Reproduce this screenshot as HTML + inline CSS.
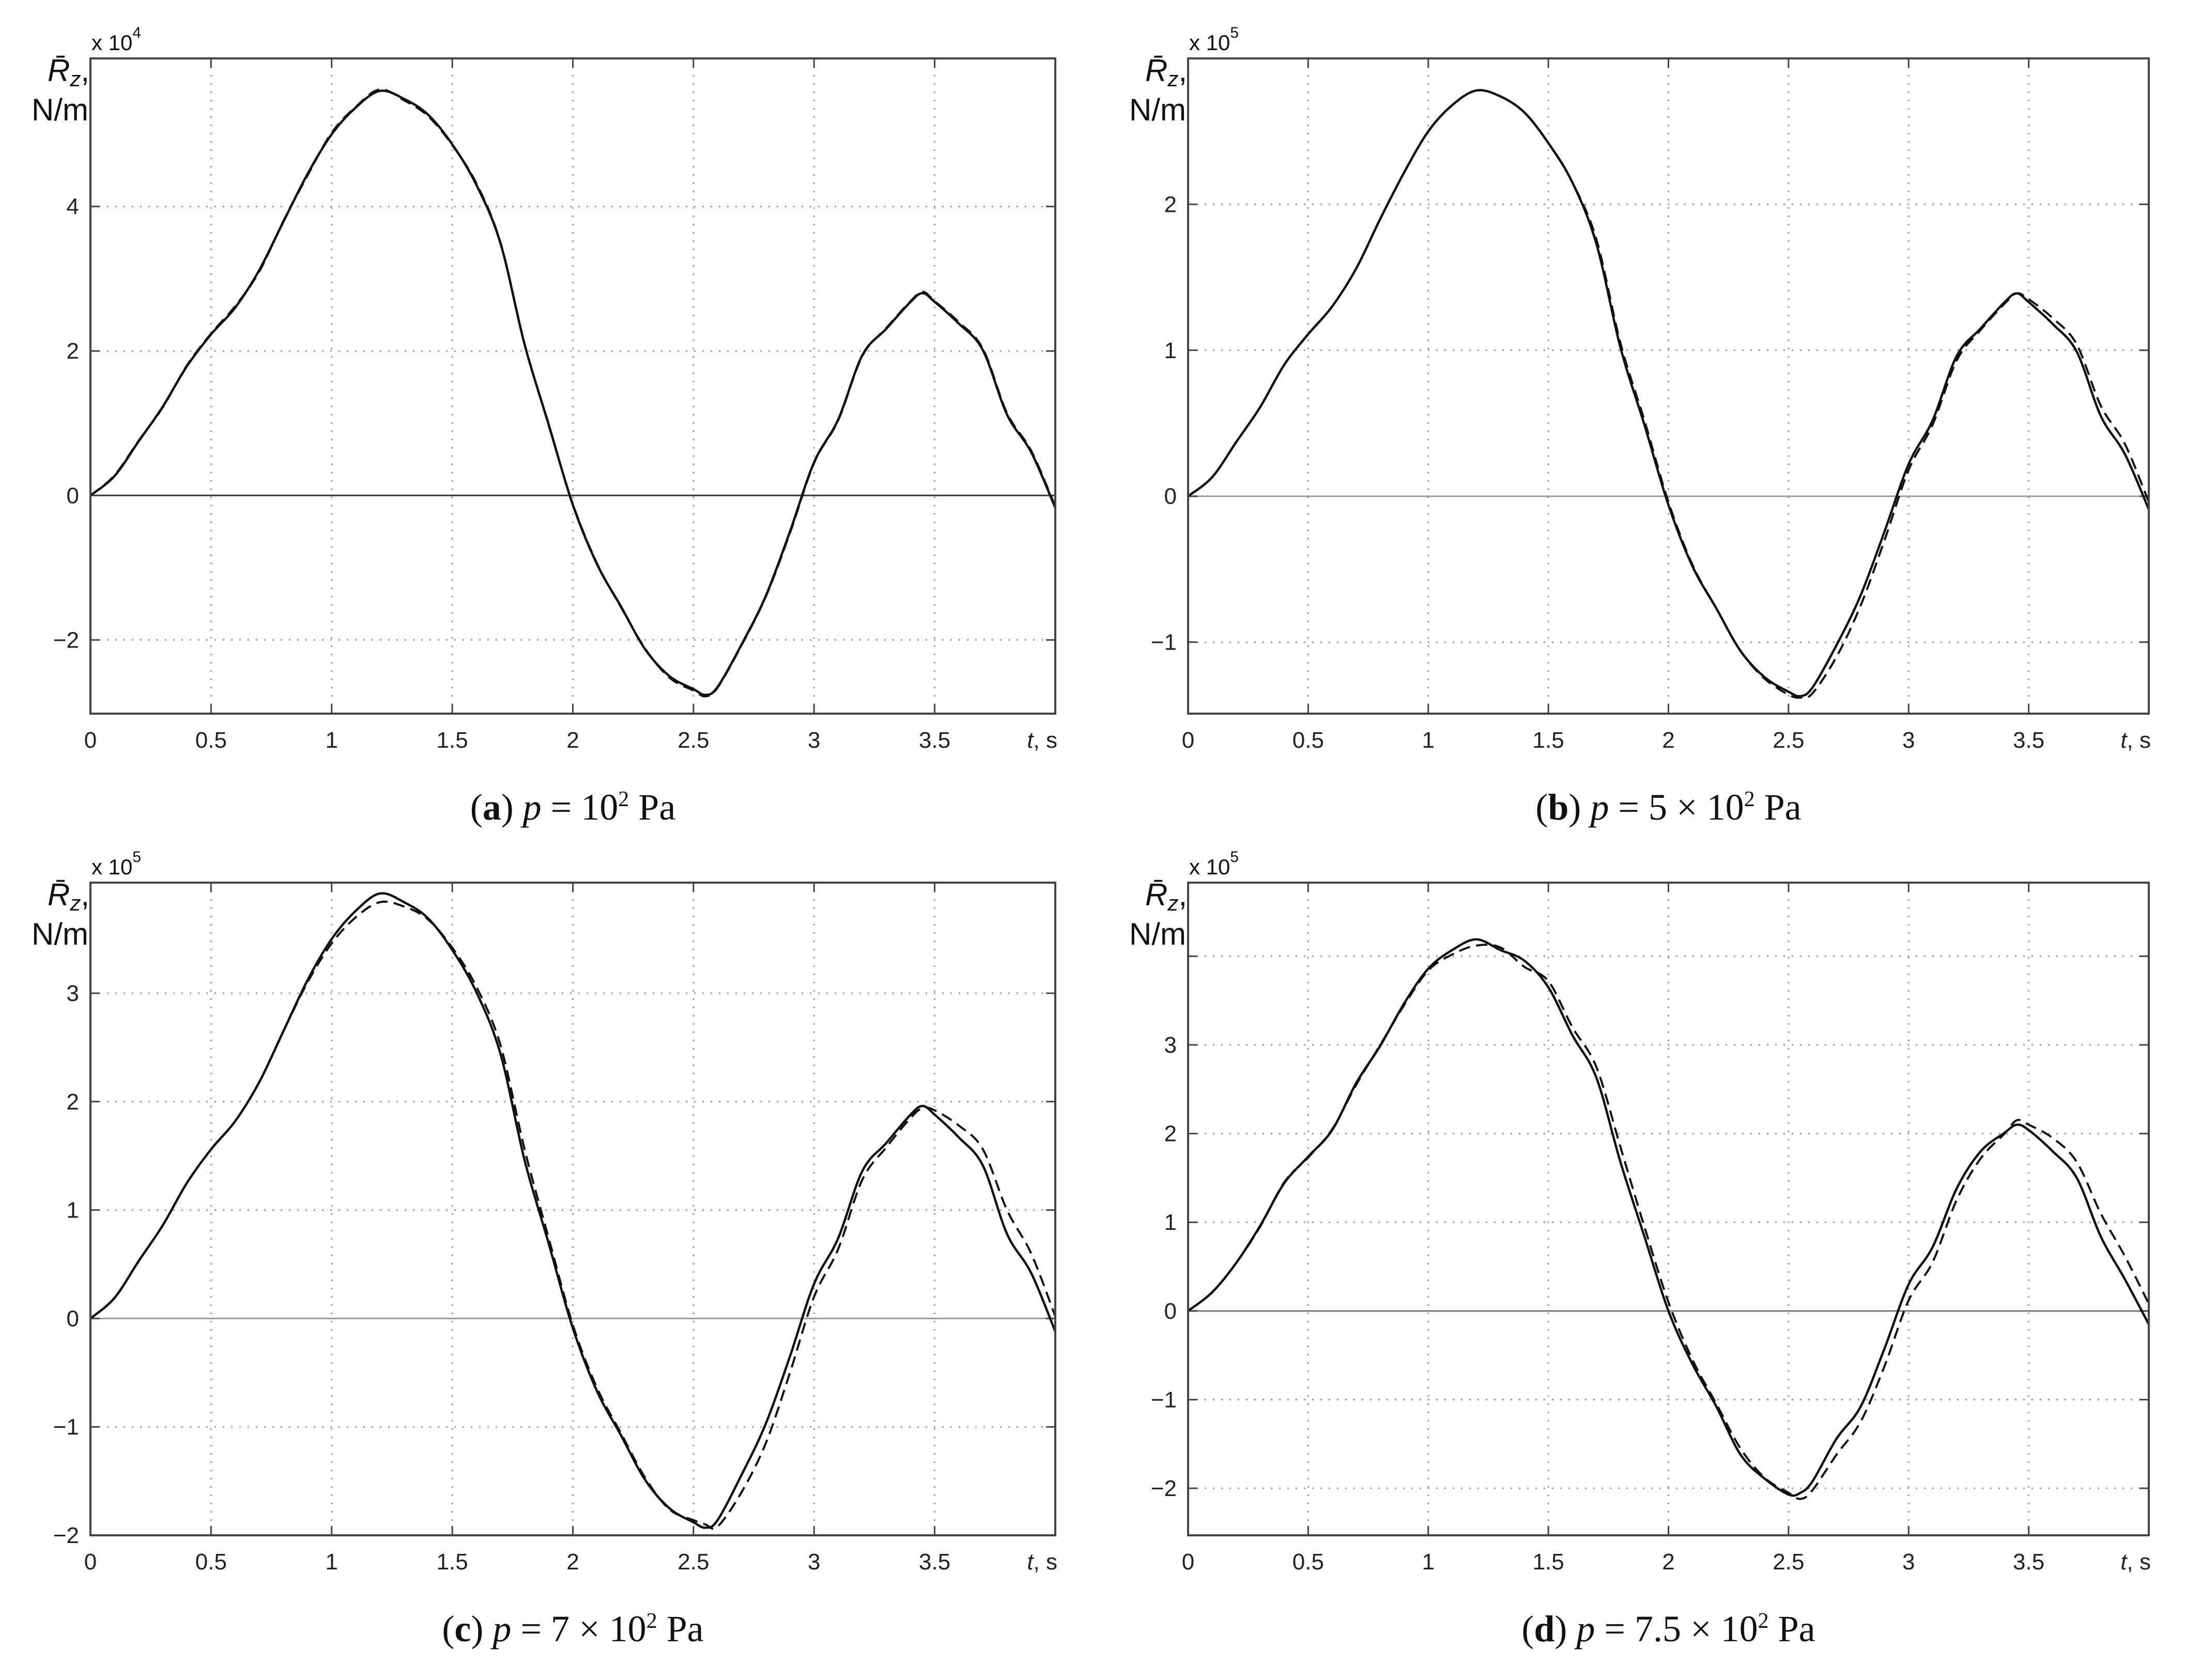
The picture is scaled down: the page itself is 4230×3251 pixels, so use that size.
<!DOCTYPE html>
<html><head><meta charset="utf-8">
<style>
html,body{margin:0;padding:0;background:#fff;}
svg{display:block;}
.tick{font-family:"Liberation Sans",sans-serif;font-size:44px;fill:#222;}
.lab{font-family:"Liberation Sans",sans-serif;fill:#111;}
.cap{font-family:"Liberation Serif",serif;font-size:72px;fill:#111;}
</style></head>
<body>
<svg id="fig" width="4230" height="3251" viewBox="0 0 4230 3251" xmlns="http://www.w3.org/2000/svg"></svg>
<script>
const tVals=[0,0.1,0.2,0.3,0.4,0.5,0.6,0.7,0.8,0.9,1.0,1.1,1.2,1.3,1.4,1.5,1.6,1.7,1.8,1.9,2.0,2.1,2.2,2.3,2.4,2.5,2.55,2.6,2.7,2.8,2.9,3.0,3.1,3.2,3.3,3.4,3.45,3.5,3.6,3.7,3.8,3.9,4.0];
const aSolid=[0,0.27,0.75,1.23,1.79,2.23,2.6,3.12,3.79,4.45,5.0,5.37,5.6,5.49,5.27,4.86,4.3,3.49,2.09,0.98,-0.13,-0.95,-1.54,-2.13,-2.5,-2.68,-2.76,-2.65,-2.06,-1.39,-0.5,0.46,1.05,1.94,2.31,2.68,2.8,2.68,2.38,2.01,1.12,0.6,-0.17];
const aDashed=[0,0.28,0.76,1.22,1.8,2.24,2.62,3.1,3.8,4.43,5.02,5.38,5.62,5.47,5.25,4.85,4.32,3.5,2.1,0.97,-0.12,-0.94,-1.55,-2.12,-2.52,-2.7,-2.78,-2.66,-2.07,-1.4,-0.52,0.45,1.04,1.93,2.32,2.69,2.82,2.69,2.4,2.03,1.14,0.62,-0.15];
const bSolid=[0,0.13,0.37,0.61,0.9,1.11,1.3,1.56,1.9,2.22,2.5,2.68,2.78,2.74,2.63,2.42,2.15,1.73,1.02,0.49,-0.06,-0.48,-0.77,-1.06,-1.24,-1.34,-1.37,-1.31,-1.02,-0.68,-0.24,0.22,0.52,0.96,1.15,1.33,1.39,1.33,1.18,0.99,0.55,0.29,-0.09];
const bDashed=[0,0.13,0.37,0.61,0.9,1.11,1.3,1.56,1.9,2.22,2.5,2.68,2.78,2.74,2.63,2.42,2.15,1.76,1.05,0.52,-0.04,-0.47,-0.77,-1.06,-1.25,-1.36,-1.38,-1.35,-1.1,-0.75,-0.3,0.18,0.49,0.93,1.14,1.32,1.39,1.35,1.22,1.04,0.62,0.36,-0.04];
const cSolid=[0,0.19,0.53,0.86,1.25,1.56,1.82,2.18,2.65,3.12,3.5,3.76,3.92,3.84,3.69,3.4,3.01,2.44,1.46,0.69,-0.09,-0.67,-1.08,-1.49,-1.75,-1.88,-1.93,-1.86,-1.44,-0.97,-0.35,0.32,0.74,1.36,1.62,1.88,1.96,1.88,1.67,1.41,0.78,0.42,-0.12];
const cDashed=[0,0.19,0.53,0.86,1.25,1.56,1.82,2.18,2.65,3.1,3.46,3.7,3.84,3.8,3.68,3.42,3.06,2.52,1.56,0.74,-0.06,-0.64,-1.06,-1.47,-1.76,-1.86,-1.9,-1.92,-1.6,-1.15,-0.5,0.2,0.64,1.28,1.58,1.85,1.94,1.92,1.78,1.56,1.0,0.6,0.02];
const dSolid=[0,0.21,0.54,0.96,1.44,1.74,2.04,2.57,2.99,3.47,3.86,4.07,4.19,4.07,3.95,3.65,3.11,2.63,1.68,0.84,0,-0.6,-1.08,-1.62,-1.89,-2.07,-2.05,-1.92,-1.44,-1.08,-0.42,0.3,0.72,1.38,1.8,2.01,2.1,2.04,1.8,1.5,0.84,0.36,-0.15];
const dDashed=[0,0.21,0.54,0.95,1.45,1.73,2.05,2.55,3.0,3.45,3.84,4.02,4.12,4.1,3.88,3.72,3.2,2.75,1.85,0.95,0.1,-0.55,-1.05,-1.55,-1.88,-2.05,-2.12,-2.02,-1.62,-1.25,-0.62,0.12,0.55,1.25,1.72,2.0,2.15,2.1,1.95,1.68,1.1,0.62,0.08];
const xTickLabels=["0","0.5","1","1.5","2","2.5","3","3.5"];
const aYTicks=[-2,0,2,4];
const bYTicks=[-1,0,1,2];
const cYTicks=[-2,-1,0,1,2,3];
const dYTicks=[-2,-1,0,1,2,3];
const aGrid=[-2,0,2,4];
const bGrid=[-1,0,1,2];
const cGrid=[-2,-1,0,1,2,3];
const dGrid=[-2,-1,0,1,2,3,4];

const NS="http://www.w3.org/2000/svg";
const svg=document.getElementById('fig');
function mk(tag,attrs,parent){const e=document.createElementNS(NS,tag);for(const k in attrs)e.setAttribute(k,attrs[k]);(parent||svg).appendChild(e);return e;}
function smooth(pts){let d="M"+pts[0][0].toFixed(1)+","+pts[0][1].toFixed(1);
 for(let i=0;i<pts.length-1;i++){const p0=pts[Math.max(0,i-1)],p1=pts[i],p2=pts[i+1],p3=pts[Math.min(pts.length-1,i+2)];
  const c1x=p1[0]+(p2[0]-p0[0])/6,c1y=p1[1]+(p2[1]-p0[1])/6,c2x=p2[0]-(p3[0]-p1[0])/6,c2y=p2[1]-(p3[1]-p1[1])/6;
  d+=` C${c1x.toFixed(1)},${c1y.toFixed(1)} ${c2x.toFixed(1)},${c2y.toFixed(1)} ${p2[0].toFixed(1)},${p2[1].toFixed(1)}`;}
 return d;}

function panel(id,L,R,T,B,ymin,ymax,yTicks,grid,solid,dashed,exp,capLetter,capRest,zeroColor){
 const g=mk('g',{});
 
 
 const xs=t=>L+(R-L)*t/4;
 const ys=v=>B-(B-T)*(v-ymin)/(ymax-ymin);
 for(let i=1;i<8;i++){const l=mk('line',{x1:xs(i*0.5),x2:xs(i*0.5),y1:T,y2:B,stroke:'#9a9a9a','stroke-width':3,'stroke-dasharray':'3 13'},g);
  }
 grid.forEach(v=>{if(v===0)return;const l=mk('line',{x1:L,x2:R,y1:ys(v),y2:ys(v),stroke:'#9a9a9a','stroke-width':3,'stroke-dasharray':'3 13'},g);
  });
 const z=mk('line',{x1:L,x2:R,y1:ys(0),y2:ys(0),stroke:zeroColor,'stroke-width':3},g);
 
 for(let i=1;i<8;i++){mk('line',{x1:xs(i*0.5),x2:xs(i*0.5),y1:B,y2:B-18,stroke:'#444','stroke-width':3},g);mk('line',{x1:xs(i*0.5),x2:xs(i*0.5),y1:T,y2:T+18,stroke:'#444','stroke-width':3},g);}
 grid.forEach(v=>{mk('line',{x1:L,x2:L+18,y1:ys(v),y2:ys(v),stroke:'#444','stroke-width':3},g);mk('line',{x1:R,x2:R-18,y1:ys(v),y2:ys(v),stroke:'#444','stroke-width':3},g);});
 const ptsS=tVals.map((t,i)=>[xs(t),ys(solid[i])]);
 const ptsD=tVals.map((t,i)=>[xs(t),ys(dashed[i])]);
 const pd=mk('path',{d:smooth(ptsD),fill:'none',stroke:'#111','stroke-width':4,'stroke-dasharray':'22 12'},g);
 
 const ps=mk('path',{d:smooth(ptsS),fill:'none',stroke:'#111','stroke-width':4.5},g);
 
 const bx=mk('rect',{x:L,y:T,width:R-L,height:B-T,fill:'none',stroke:'#444','stroke-width':4},g);
 
 xTickLabels.forEach((s,i)=>{const t=mk('text',{x:xs(i*0.5),y:B+66,'text-anchor':'middle',class:'tick'},g);t.textContent=s;
  });
 const xt=mk('text',{x:R+4,y:B+66,'text-anchor':'end',class:'tick','font-size':48},g);
 xt.innerHTML='<tspan font-style="italic">t</tspan>, s';
 
 yTicks.forEach(v=>{const t=mk('text',{x:L-22,y:ys(v)+15,'text-anchor':'end',class:'tick'},g);t.textContent=(v<0?'\u2212'+(-v):''+v);
  });
 const ex=mk('text',{x:L+2,y:T-16,class:'lab','font-size':42},g);
 ex.innerHTML='x 10<tspan font-size="30" dy="-24">'+exp+'</tspan>';
 
 const yl=mk('text',{x:L-2,y:T+44,'text-anchor':'end',class:'lab','font-size':60},g);
 yl.innerHTML='<tspan font-style="italic">R̄</tspan><tspan font-style="italic" font-size="42" dy="10">z</tspan><tspan dy="-10">,</tspan>';
 
 const yu=mk('text',{x:L-4,y:T+120,'text-anchor':'end',class:'lab','font-size':60},g);yu.textContent='N/m';
 
 const cp=mk('text',{x:(L+R)/2,y:B+205,'text-anchor':'middle',class:'cap'},g);
 cp.innerHTML='(<tspan font-weight="bold">'+capLetter+'</tspan>) <tspan font-style="italic">p</tspan> = '+capRest;
 
}
panel('a',175,2042,113,1381,-3.02,6.05,aYTicks,aGrid,aSolid,aDashed,'4','a','10<tspan font-size="42" dy="-26">2</tspan><tspan dy="26"> Pa</tspan>','#333');
panel('b',2299,4158,113,1381,-1.49,3.0,bYTicks,bGrid,bSolid,bDashed,'5','b','5 × 10<tspan font-size="42" dy="-26">2</tspan><tspan dy="26"> Pa</tspan>','#999');
panel('c',175,2042,1708,2971,-2.0,4.02,cYTicks,cGrid,cSolid,cDashed,'5','c','7 × 10<tspan font-size="42" dy="-26">2</tspan><tspan dy="26"> Pa</tspan>','#999');
panel('d',2299,4158,1708,2971,-2.53,4.83,dYTicks,dGrid,dSolid,dDashed,'5','d','7.5 × 10<tspan font-size="42" dy="-26">2</tspan><tspan dy="26"> Pa</tspan>','#777');
</script>
</body></html>
